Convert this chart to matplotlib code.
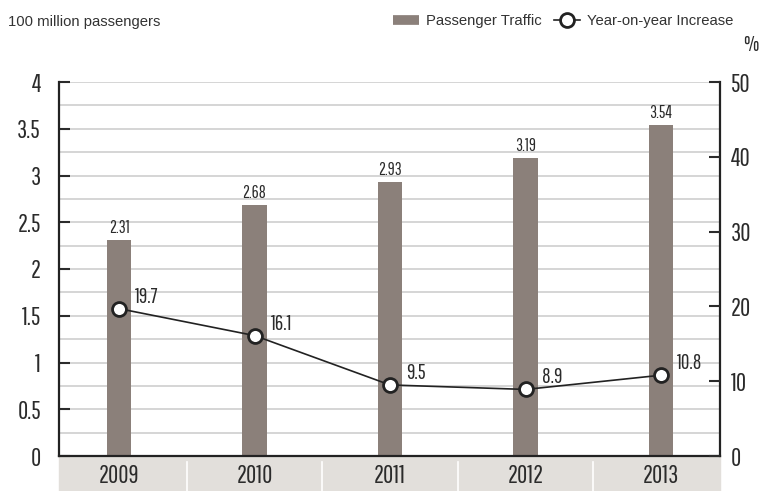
import matplotlib.pyplot as plt
from matplotlib.lines import Line2D
from matplotlib.patches import Rectangle

years = ['2009', '2010', '2011', '2012', '2013']
traffic = [2.31, 2.68, 2.93, 3.19, 3.54]
growth = [19.7, 16.1, 9.5, 8.9, 10.8]

bar_color = '#8b807a'
band_color = '#e2dfdb'
text_color = '#2b2b2b'
narrow = ['Pathway Gothic One', 'PT Sans Narrow', 'Liberation Sans Narrow', 'DejaVu Sans']
plain = ['Liberation Sans', 'DejaVu Sans']

fig = plt.figure(figsize=(7.64, 4.91), dpi=100)
ax = fig.add_axes([59 / 764, 1 - 456 / 491, 661 / 764, 374 / 491])
ax2 = ax.twinx()

x = list(range(len(years)))
ax.bar(x, traffic, width=0.18, color=bar_color, zorder=2)
for xi, v in zip(x, traffic):
    ax.annotate(f'{v:.2f}', (xi, v), xytext=(0, 4), textcoords='offset pixels',
                ha='center', va='bottom', fontsize=12.5, family=narrow, color=text_color)

ax.set_xlim(-0.443, 4.435)
ax.set_ylim(0, 4)
ax.set_yticks([i * 0.5 for i in range(9)])
ax.set_yticklabels(['0', '0.5', '1', '1.5', '2', '2.5', '3', '3.5', '4'])
ax.set_yticks([i * 0.25 for i in range(17)], minor=True)
ax.grid(axis='y', which='both', color='#d2d2d2', lw=1.3, zorder=0)
ax.set_axisbelow(True)
ax.tick_params(axis='y', which='major', direction='in', length=8, width=1.5,
               labelsize=18, pad=13, colors=text_color)
ax.tick_params(axis='y', which='minor', length=0)
for t in ax.get_yticklabels():
    t.set_family(narrow)

# year band below the plot
ax.set_xticks(x)
ax.set_xticklabels(years, family=narrow, fontsize=18, color=text_color)
ax.tick_params(axis='x', length=0, pad=6)
band = Rectangle((0, -0.094), 1, 0.094, transform=ax.transAxes, color=band_color,
                 clip_on=False, zorder=0)
ax.add_patch(band)
for xi in x[:-1]:
    ax.plot([xi + 0.5, xi + 0.5], [-0.017, -0.094], transform=ax.get_xaxis_transform(),
            color='white', lw=1.2, clip_on=False, zorder=1)

for s in ['left', 'right', 'bottom']:
    ax.spines[s].set_linewidth(1.6)
    ax.spines[s].set_color('#222222')
ax.spines['top'].set_visible(False)

ax2.plot(x, growth, color='#222222', lw=1.2, marker='o', markersize=10,
         markerfacecolor='white', markeredgecolor='#222222', markeredgewidth=2, zorder=3)
for xi, v in zip(x, growth):
    ax2.annotate(f'{v}', (xi, v), xytext=(16, 2), textcoords='offset pixels',
                 ha='left', va='bottom', fontsize=15, family=narrow, color=text_color)
ax2.set_ylim(0, 50)
ax2.set_yticks(range(0, 51, 10))
ax2.tick_params(axis='y', direction='in', length=8, width=1.5, labelsize=18, pad=8,
                colors=text_color)
for t in ax2.get_yticklabels():
    t.set_family(narrow)
for s in ax2.spines.values():
    s.set_visible(False)

fig.text(8 / 764, 1 - 22 / 491, '100 million passengers', fontsize=10.7, family=plain,
         color='#333333', va='center')
fig.text(751 / 764, 1 - 45 / 491, '%', fontsize=16, family=narrow, color=text_color,
         va='center', ha='center')

handles = [Line2D([], [], color=bar_color, lw=7, solid_capstyle='butt'),
           Line2D([], [], color='#222222', lw=1.2, marker='o', markersize=10,
                  markerfacecolor='white', markeredgewidth=2)]
fig.legend(handles, ['Passenger Traffic', 'Year-on-year Increase'], ncol=2,
           loc='center right', bbox_to_anchor=(741 / 764, 1 - 21 / 491), frameon=False,
           prop={'family': plain, 'size': 10.7}, handlelength=1.75, handletextpad=0.5,
           columnspacing=0.8, labelcolor='#333333', borderpad=0)

fig.savefig('out.png', dpi=100)
